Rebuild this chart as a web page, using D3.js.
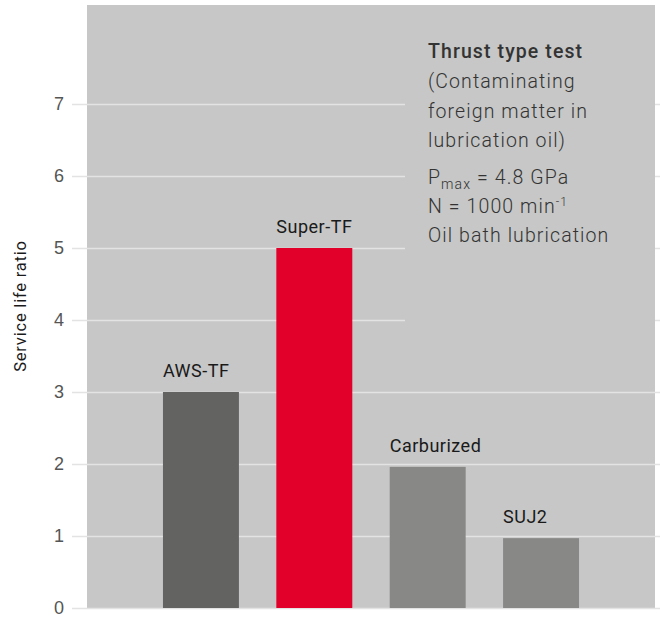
<!DOCTYPE html>
<html lang="en">
<head>
    <meta charset="UTF-8">
    <title>Service life ratio</title>
    <script src="https://cdnjs.cloudflare.com/ajax/libs/d3/7.8.5/d3.min.js"></script>
    <style>
        body { margin: 0; background: #fff; font-family: Roboto, "Noto Sans", sans-serif; }
        .tick-label { font-size: 18px; font-weight: 300; fill: #555; }
        .bar-label { font-size: 18px; font-weight: 400; fill: #1a1a1a; letter-spacing: 0.5px; }
        .note { font-size: 19.5px; fill: #333; letter-spacing: 1.1px; }
        .axis-title { font-size: 16.5px; font-weight: 400; fill: #1a1a1a; letter-spacing: 0.8px; }
    </style>
</head>
<body>
    <div id="chart"></div>
    <script>
        // Data
        const categories = ["AWS-TF", "Super-TF", "Carburized", "SUJ2"];
        const values = [3, 5, 1.96, 0.97];
        const barColors = ["#636362", "#e2002b", "#888887", "#888887"];
        const yTicks = [0, 1, 2, 3, 4, 5, 6, 7];
        const noteLines = ["(Contaminating", "foreign matter in", "lubrication oil)"];

        const width = 660, height = 618;
        const plot = {left: 87, right: 655, top: 5, bottom: 608};

        const svg = d3.select("#chart").append("svg")
            .attr("width", width)
            .attr("height", height);

        const x = d3.scaleBand()
            .domain(categories)
            .range([plot.left, plot.right])
            .paddingInner(0.33)
            .paddingOuter(0.67);

        const y = d3.scaleLinear()
            .domain([0, 8.375])
            .range([plot.bottom, plot.top]);

        // Plot background
        svg.append("rect")
            .attr("x", plot.left)
            .attr("y", plot.top)
            .attr("width", plot.right - plot.left)
            .attr("height", plot.bottom - plot.top)
            .attr("fill", "#c6c7c6");

        // Y axis with grid lines
        const yAxis = svg.append("g")
            .attr("transform", `translate(${plot.left},0)`)
            .call(d3.axisLeft(y)
                .tickValues(yTicks)
                .tickSize(-(plot.right - 72))
                .tickPadding(23)
                .tickFormat(d3.format("d")));
        yAxis.select(".domain").remove();
        yAxis.selectAll(".tick line")
            .attr("x1", 72 - plot.left)
            .attr("stroke", "#e2e3e2")
            .attr("stroke-width", 1.5);
        yAxis.selectAll(".tick text")
            .attr("class", "tick-label")
            .attr("font-family", null)
            .attr("font-size", null)
            .attr("fill", null);

        // Box behind the note hides the grid lines there
        svg.append("rect")
            .attr("x", 405)
            .attr("y", 30)
            .attr("width", plot.right - 405)
            .attr("height", 300)
            .attr("fill", "#c6c7c6");

        // Bars
        svg.selectAll(".bar")
            .data(categories)
            .join("rect")
            .attr("class", "bar")
            .attr("x", d => x(d))
            .attr("y", (d, i) => y(values[i]))
            .attr("width", x.bandwidth())
            .attr("height", (d, i) => y(0) - y(values[i]))
            .attr("fill", (d, i) => barColors[i]);

        // Bar labels
        svg.selectAll(".bar-label")
            .data(categories)
            .join("text")
            .attr("class", "bar-label")
            .attr("x", d => x(d))
            .attr("y", (d, i) => y(values[i]) - 15)
            .text(d => d);

        // Y axis title
        svg.append("text")
            .attr("class", "axis-title")
            .attr("transform", "rotate(-90)")
            .attr("x", -306)
            .attr("y", 26)
            .attr("text-anchor", "middle")
            .text("Service life ratio");

        // Test conditions note
        const noteX = 428;
        svg.append("text")
            .attr("class", "note")
            .attr("x", noteX)
            .attr("y", 58)
            .attr("font-weight", 500)
            .attr("fill", "#222")
            .attr("letter-spacing", "0.7px")
            .text("Thrust type test");

        svg.selectAll(".note-line")
            .data(noteLines)
            .join("text")
            .attr("class", "note")
            .attr("x", noteX)
            .attr("y", (d, i) => 88 + i * 29.5)
            .attr("font-weight", 300)
            .text(d => d);

        const p = svg.append("text")
            .attr("class", "note")
            .attr("x", noteX)
            .attr("y", 184)
            .attr("font-weight", 300);
        p.append("tspan").text("P");
        p.append("tspan").attr("dy", 5).attr("font-size", 14).text("max");
        p.append("tspan").attr("dy", -5).text(" = 4.8 GPa");

        const n = svg.append("text")
            .attr("class", "note")
            .attr("x", noteX)
            .attr("y", 213)
            .attr("font-weight", 300);
        n.append("tspan").text("N = 1000 min");
        n.append("tspan").attr("dy", -7).attr("font-size", 12).text("-1");

        svg.append("text")
            .attr("class", "note")
            .attr("x", noteX)
            .attr("y", 242)
            .attr("font-weight", 300)
            .text("Oil bath lubrication");
    </script>
</body>
</html>
